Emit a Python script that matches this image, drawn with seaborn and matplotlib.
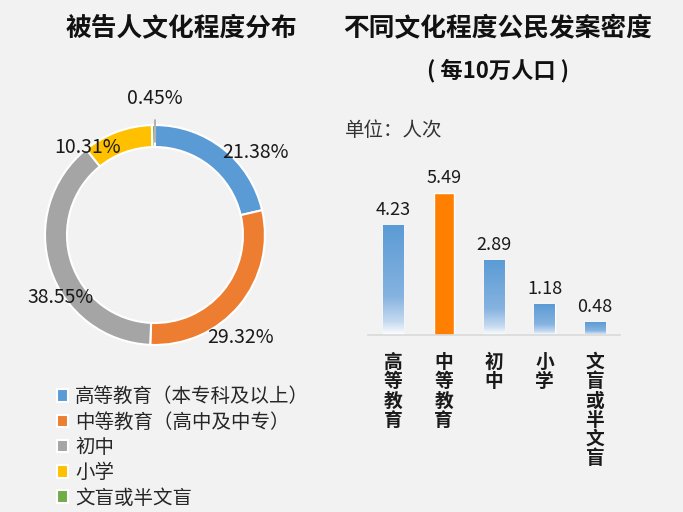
import matplotlib
matplotlib.use("Agg")
import matplotlib.pyplot as plt
import numpy as np
import pandas as pd
import seaborn as sns
from matplotlib.colors import LinearSegmentedColormap

# data
edu_levels = ["高等教育（本专科及以上）", "中等教育（高中及中专）", "初中", "小学", "文盲或半文盲"]
edu_share = [21.38, 29.32, 38.55, 10.31, 0.45]
bar_names = ["高等教育", "中等教育", "初中", "小学", "文盲或半文盲"]
bar_values = [4.23, 5.49, 2.89, 1.18, 0.48]

pie_colors = ["#5B9BD5", "#ED7D31", "#A5A5A5", "#FFC000", "#70AD47"]
bg = "#F2F2F2"

sns.set_theme(style="white")
plt.rcParams["font.family"] = ["Noto Sans CJK SC", "DejaVu Sans"]
plt.rcParams["axes.unicode_minus"] = False

fig = plt.figure(figsize=(6.83, 5.12), dpi=100, facecolor=bg)

# donut
ax1 = fig.add_axes([0.0659, 0.326, 0.322, 0.43])
ax1.set_facecolor(bg)
wedges, _ = ax1.pie(edu_share, colors=pie_colors, startangle=90, counterclock=False,
                    radius=1.0, wedgeprops=dict(width=0.2, edgecolor="white", linewidth=1.5))
ax1.set_xlim(-1, 1)
ax1.set_ylim(-1, 1)
ax1.set_aspect("equal")
ax1.axis("off")

label_pos = [(0.91, 0.75), (0.78, -0.93), (-0.86, -0.57), (-0.61, 0.80), (0.0, 1.24)]
for v, (x, y) in zip(edu_share, label_pos):
    ax1.text(x, y, f"{v:.2f}%", ha="center", va="center", fontsize=14, color="#1a1a1a",
             clip_on=False)
ax1.plot([0, 0], [1.05, 0.85], color="#A5A5A5", lw=1.2, clip_on=False, zorder=5)

fig.text(0.265, 0.944, "被告人文化程度分布", ha="center", va="center", fontsize=18.5,
         fontweight="bold", color="#111111")

# legend
fig.legend(wedges, edu_levels, loc="lower left", bbox_to_anchor=(0.066, -0.016),
           frameon=False, fontsize=14, handlelength=0.6, handleheight=0.6,
           handletextpad=0.35, labelspacing=0.22, borderaxespad=0.2)

# bars
ax2 = fig.add_axes([0.539, 0.346, 0.369, 0.328])
ax2.set_facecolor(bg)
df = pd.DataFrame({"name": bar_names, "value": bar_values})
sns.barplot(data=df, x="name", y="value", ax=ax2, width=0.4, color=pie_colors[0],
            saturation=1)

cmap = LinearSegmentedColormap.from_list(
    "fade", [(0.0, "#FFFFFF"), (0.12, "#C5DAF0"), (0.35, "#86B3E0"), (1.0, "#5B9BD5")])
grad = np.linspace(0, 1, 256).reshape(-1, 1)
for i, p in enumerate(ax2.patches):
    if i == 1:
        p.set_facecolor("#FF8000")
        continue
    x0, w, h = p.get_x(), p.get_width(), p.get_height()
    p.set_facecolor("none")
    ax2.imshow(grad, cmap=cmap, origin="lower", aspect="auto",
               extent=(x0, x0 + w, 0, h), zorder=2)
for i, v in enumerate(bar_values):
    ax2.text(i, v + 0.25, f"{v:.2f}", ha="center", va="bottom", fontsize=13,
             color="#1a1a1a")
ax2.set_xlim(-0.5, 4.5)
ax2.set_ylim(0, 6.5)

ax2.set_xticks(range(len(bar_names)))
ax2.set_xticklabels(["\n".join(n) for n in bar_names], fontsize=13.5, fontweight="bold",
                    va="top", linespacing=1.02, color="#1a1a1a")
ax2.tick_params(axis="x", length=0, pad=13)
ax2.set_yticks([])
ax2.set_xlabel("")
ax2.set_ylabel("")
for s in ["top", "right", "left"]:
    ax2.spines[s].set_visible(False)
ax2.spines["bottom"].set_color("#D9D9D9")
ax2.spines["bottom"].set_linewidth(1.2)

fig.text(0.729, 0.944, "不同文化程度公民发案密度", ha="center", va="center", fontsize=18.5,
         fontweight="bold", color="#111111")
fig.text(0.729, 0.862, "( 每10万人口 )", ha="center", va="center", fontsize=16,
         fontweight="bold", color="#111111")
fig.text(0.505, 0.745, "单位：人次", ha="left", va="center", fontsize=14,
         color="#333333")

fig.savefig("out.png", dpi=100, facecolor=bg)
